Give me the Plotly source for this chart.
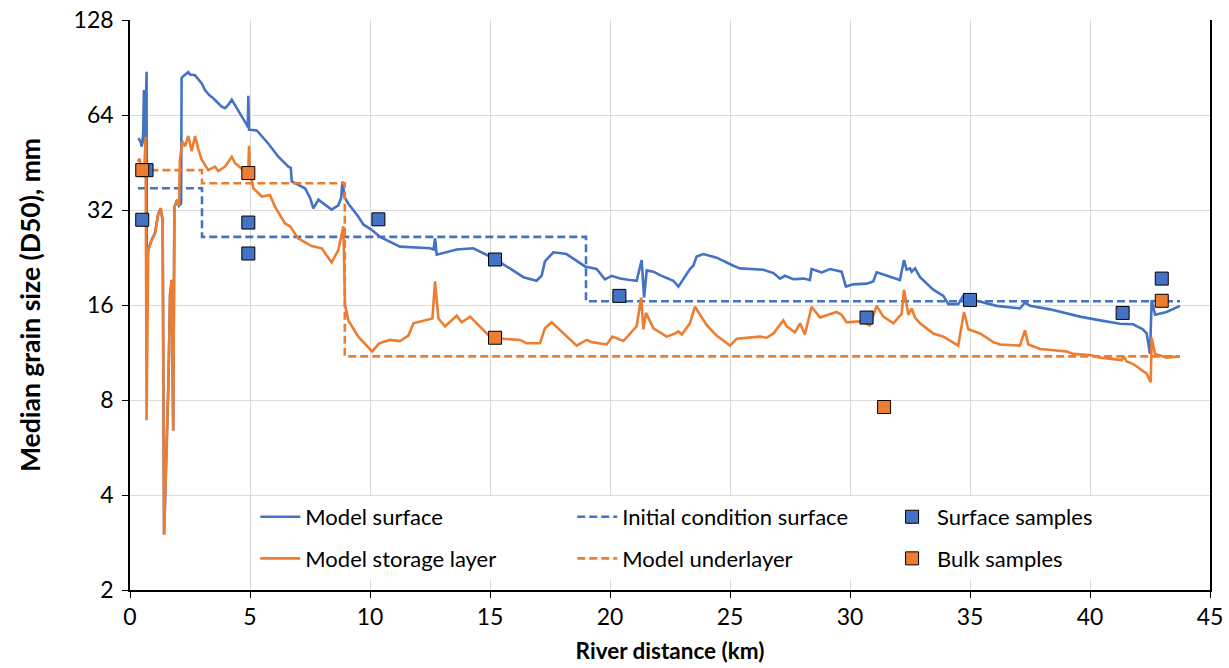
import plotly.graph_objects as go

# ---------------- data ----------------
surf_x = [0.35, 0.45, 0.49, 0.55, 0.58, 0.62, 0.65, 0.69, 0.70, 0.76, 0.90, 1.04, 1.18, 1.28, 1.36,
          1.42, 1.60, 1.67, 1.74, 1.80, 1.85, 1.97, 2.04, 2.13, 2.15, 2.22, 2.30, 2.43, 2.50, 2.71,
          2.85, 2.99, 3.125, 3.30, 3.47, 3.82, 3.96, 4.10, 4.24, 4.40, 4.58, 4.86, 4.91, 4.93, 4.96,
          5.28, 5.76, 6.18, 6.60, 6.70, 6.74, 7.29, 7.50, 7.64, 7.85, 8.40, 8.68, 8.80, 8.85, 8.95,
          9.10, 9.51, 9.72, 10.07, 10.42, 11.25, 12.50, 12.65, 12.71, 12.78, 13.20, 13.61, 14.30,
          15.00, 15.83, 16.39, 16.94, 17.15, 17.29, 17.64, 18.19, 18.96, 19.44, 19.79, 20.07, 20.42,
          20.83, 21.11, 21.32, 21.42, 21.53, 21.81, 22.08, 22.64, 22.85, 23.33, 23.47, 23.61, 23.89,
          24.44, 25.14, 25.42, 26.39, 26.81, 27.08, 27.29, 27.64, 28.06, 28.33, 28.40, 28.82, 29.17,
          29.65, 29.83, 30.14, 30.69, 30.97, 31.11, 31.39, 32.08, 32.25, 32.36, 32.50, 32.57, 32.71,
          32.92, 33.47, 33.89, 34.10, 34.51, 34.72, 35.28, 36.11, 37.08, 37.29, 37.50, 38.33, 39.58,
          40.42, 41.25, 41.80, 42.20, 42.36, 42.50, 42.57, 42.71, 43.19, 43.75]
surf_y = [54.1, 52.5, 50.8, 56.0, 76.8, 52.0, 60.0, 87.8, 24.0, 23.9, 25.7, 27.0, 31.2, 32.4, 29.6,
          3.0, 9.0, 17.3, 19.2, 6.4, 32.7, 34.5, 33.0, 33.5, 84.0, 84.7, 86.0, 87.5, 86.0, 85.5,
          83.0, 80.6, 76.8, 74.0, 72.3, 68.0, 67.3, 69.0, 71.6, 68.0, 64.8, 59.7, 58.5, 73.6, 57.5,
          57.2, 52.0, 47.2, 43.9, 43.5, 39.4, 37.5, 35.0, 32.4, 34.5, 32.1, 33.1, 35.0, 39.4, 35.0,
          33.5, 30.5, 28.8, 27.7, 26.3, 24.5, 24.2, 24.0, 26.0, 23.1, 23.5, 24.0, 24.2,
          22.8, 20.9, 19.6, 19.1, 19.8, 22.0, 23.5, 23.2, 21.2, 20.8, 19.3, 19.8, 19.4,
          19.2, 19.1, 22.2, 16.9, 20.6, 20.4, 19.9, 19.1, 18.3, 20.8, 21.3, 22.8, 23.2,
          22.6, 21.3, 20.9, 20.7, 20.2, 19.4, 19.8, 19.3, 19.4, 19.2, 20.8, 20.3, 20.8,
          20.4, 18.3, 18.6, 18.7, 19.0, 20.3, 20.0, 19.2, 22.2, 20.7, 20.9, 20.4, 20.9,
          19.6, 17.9, 17.1, 16.1, 16.1, 17.1, 16.5, 15.9, 15.6, 16.3, 15.9, 15.5, 14.7,
          14.3, 13.95, 13.9, 13.4, 13.0, 11.2, 16.6, 14.9, 15.2, 15.9]

stor_x = [0.32, 0.40, 0.50, 0.60, 0.65, 0.69, 0.76, 0.90, 1.04, 1.18, 1.28, 1.36, 1.42, 1.60, 1.67,
          1.74, 1.80, 1.85, 1.97, 2.04, 2.08, 2.18, 2.29, 2.43, 2.57, 2.71, 2.85, 2.99, 3.26, 3.54,
          3.68, 3.96, 4.24, 4.38, 4.65, 4.86, 4.93, 4.96, 5.00, 5.14, 5.49, 5.83, 6.04, 6.46, 6.67,
          7.01, 7.57, 7.99, 8.40, 8.68, 8.85, 8.89, 8.96, 9.10, 9.51, 10.09, 10.38, 10.83, 11.25,
          11.60, 11.81, 12.36, 12.60, 12.71, 12.85, 13.13, 13.61, 13.82, 14.17, 15.00, 15.56, 16.25,
          16.53, 17.08, 17.29, 17.57, 18.06, 18.61, 19.03, 19.24, 19.86, 20.10, 20.56, 20.90, 21.11,
          21.30, 21.39, 21.50, 21.81, 22.36, 22.71, 22.85, 22.99, 23.33, 23.54, 24.03, 24.44, 25.00,
          25.28, 26.25, 26.53, 26.81, 27.22, 27.36, 27.71, 27.92, 28.12, 28.40, 28.75, 29.44, 29.65,
          29.86, 30.42, 30.83, 31.11, 31.39, 31.81, 32.15, 32.25, 32.43, 32.57, 32.71, 32.92, 33.47,
          33.89, 34.51, 34.75, 34.93, 35.42, 35.97, 36.25, 37.08, 37.29, 37.43, 37.92, 39.03, 39.31,
          40.00, 40.42, 41.32, 41.40, 41.53, 41.80, 42.36, 42.53, 42.57, 42.71, 43.19, 43.75]
stor_y = [45.5, 46.5, 42.0, 44.0, 54.6, 6.9, 23.9, 25.7, 27.0, 31.2, 32.4, 29.6, 3.0, 9.0, 17.3,
          19.2, 6.4, 32.7, 34.5, 33.0, 46.2, 52.9, 50.9, 54.9, 49.1, 54.9, 49.7, 46.2, 42.8, 43.9,
          42.5, 43.9, 47.2, 45.0, 43.3, 42.8, 42.5, 51.1, 42.5, 37.5, 35.3, 35.7, 32.8, 29.0, 28.4,
          26.0, 24.6, 24.2, 21.8, 23.9, 27.5, 28.4, 16.0, 14.3, 12.7, 11.4, 12.1, 12.4, 12.3,
          12.8, 14.0, 14.3, 14.5, 19.0, 14.5, 13.7, 14.8, 14.1, 14.7, 12.7, 12.5, 12.4,
          12.1, 12.1, 13.5, 14.1, 13.0, 11.9, 12.4, 12.2, 12.0, 12.7, 12.3, 13.1, 13.7,
          16.9, 13.4, 15.1, 13.5, 12.7, 13.0, 13.2, 12.9, 14.0, 15.8, 13.8, 12.8, 11.9,
          12.5, 12.7, 12.6, 13.0, 14.3, 13.7, 13.1, 14.0, 12.9, 15.8, 14.6, 15.2, 14.9,
          14.1, 14.2, 13.8, 15.9, 14.7, 14.0, 15.0, 17.9, 14.9, 15.6, 14.6, 14.0, 13.0,
          12.7, 11.9, 15.2, 13.4, 13.0, 12.2, 12.0, 11.9, 13.3, 12.0, 11.6, 11.4, 11.2,
          11.1, 10.9, 10.7, 11.0, 10.6, 10.4, 9.7, 9.1, 12.6, 11.2, 10.9, 11.0]

init_x = [0.33, 3.0, 19.0, 43.75]
init_y = [37.5, 26.3, 16.45, 16.45]

under_x = [0.35, 3.0, 8.95, 43.75]
under_y = [42.8, 38.9, 11.0, 11.0]

surf_samp_x = [0.51, 0.69, 4.93, 4.93, 10.35, 15.21, 20.39, 30.69, 35.0, 41.36, 42.99]
surf_samp_y = [29.8, 42.8, 29.2, 23.3, 29.9, 22.3, 17.1, 14.6, 16.6, 15.1, 19.4]

bulk_x = [0.51, 4.93, 15.21, 31.42, 42.99]
bulk_y = [42.8, 41.9, 12.6, 7.6, 16.5]

x_ticks = [0, 5, 10, 15, 20, 25, 30, 35, 40, 45]
y_ticks = [2, 4, 8, 16, 32, 64, 128]

BLUE = "#4472C4"
ORANGE = "#ED7D31"
FONT = "Lato, 'Open Sans', sans-serif"

fig = go.Figure()
fig.add_trace(go.Scatter(x=surf_x, y=surf_y, mode="lines", name="Model surface",
                         line=dict(color=BLUE, width=2.6), legend="legend"))
fig.add_trace(go.Scatter(x=init_x, y=init_y, mode="lines", name="Initial condition surface",
                         line=dict(color=BLUE, width=2.6, dash="8px,4px", shape="hv"), legend="legend2"))
fig.add_trace(go.Scatter(x=stor_x, y=stor_y, mode="lines", name="Model storage layer",
                         line=dict(color=ORANGE, width=2.6), legend="legend"))
fig.add_trace(go.Scatter(x=under_x, y=under_y, mode="lines", name="Model underlayer",
                         line=dict(color=ORANGE, width=2.6, dash="8px,4px", shape="hv"), legend="legend2"))
fig.add_trace(go.Scatter(x=surf_samp_x, y=surf_samp_y, mode="markers", name="Surface samples",
                         marker=dict(symbol="square", size=13, color=BLUE, line=dict(color="black", width=1)),
                         legend="legend3"))
fig.add_trace(go.Scatter(x=bulk_x, y=bulk_y, mode="markers", name="Bulk samples",
                         marker=dict(symbol="square", size=13, color=ORANGE, line=dict(color="black", width=1)),
                         legend="legend3"))

leg_common = dict(bgcolor="white", borderwidth=0, orientation="v", yanchor="top", y=0.165,
                  xanchor="left", font=dict(family=FONT, size=22, color="black"),
                  tracegroupgap=10, itemwidth=40)

fig.update_layout(
    width=1229, height=668,
    margin=dict(l=130, r=19, t=20, b=78),
    paper_bgcolor="white", plot_bgcolor="white",
    font=dict(family=FONT, size=23, color="black"),
    showlegend=True,
    legend=dict(leg_common, x=0.116),
    legend2=dict(leg_common, x=0.4095),
    legend3=dict(leg_common, x=0.701),
    xaxis=dict(range=[0, 45], tickvals=x_ticks, ticktext=[str(v) for v in x_ticks],
               showgrid=True, gridcolor="#D9D9D9", gridwidth=1,
               showline=True, linecolor="black", linewidth=1.5,
               ticks="outside", ticklen=6, tickcolor="black",
               tickfont=dict(family=FONT, size=23),
               zeroline=False, automargin=False,
               title=dict(text="<b>River distance (km)</b>", font=dict(family=FONT, size=22.5), standoff=14)),
    yaxis=dict(type="log", range=[0.30103, 2.10721], tickvals=y_ticks, ticktext=[str(v) for v in y_ticks],
               showgrid=True, gridcolor="#D9D9D9", gridwidth=1,
               showline=True, linecolor="black", linewidth=1.5, mirror=True,
               ticks="outside", ticklen=6, tickcolor="black",
               tickfont=dict(family=FONT, size=23), ticklabelstandoff=4,
               zeroline=False, automargin=False,
               title=dict(text="\u00a0" * 7 + "<b>Median grain size (D50), mm</b>",
                          font=dict(family=FONT, size=26.5), standoff=25)),
)
for i, tr in enumerate(fig.data):
    tr.legendgroup = "g%d" % i

fig.write_html("out.html")
